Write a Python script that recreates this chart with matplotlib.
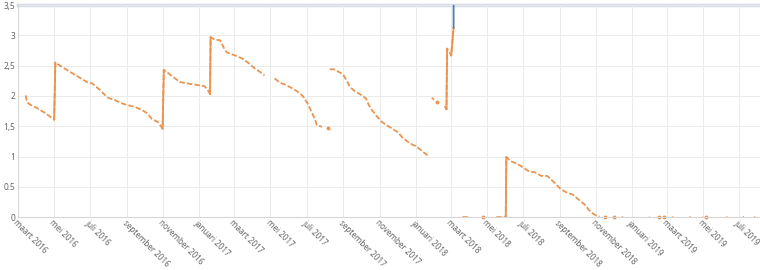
import numpy as np
import pandas as pd
import matplotlib
matplotlib.use('Agg')
import matplotlib.pyplot as plt

plt.rcParams['font.family'] = ['Noto Sans', 'DejaVu Sans']

nan = np.nan

# orange series (NaN = gap in the data)
dates = [
    '2016-03-14', '2016-03-16', '2016-03-21', '2016-04-02', '2016-04-14', '2016-04-24', '2016-05-01',
    '2016-05-03', '2016-05-11', '2016-05-19', '2016-06-05', '2016-06-27', '2016-07-04', '2016-07-17',
    '2016-07-22', '2016-07-31', '2016-08-12', '2016-08-20', '2016-09-01', '2016-09-14', '2016-09-26',
    '2016-10-04', '2016-10-13', '2016-10-23', '2016-10-31',
    '2016-11-02', '2016-11-09', '2016-11-17', '2016-11-29', '2016-12-16', '2016-12-29', '2017-01-10',
    '2017-01-15', '2017-01-19',
    '2017-01-20', '2017-01-27', '2017-02-05', '2017-02-11', '2017-02-16', '2017-03-02', '2017-03-14',
    '2017-03-27', '2017-04-05', '2017-04-13', '2017-04-21', '2017-04-30',
    '2017-05-08', '2017-05-17', '2017-05-25', '2017-06-08', '2017-06-19', '2017-06-26', '2017-07-03',
    '2017-07-10', '2017-07-15', '2017-07-18', '2017-07-27', '2017-08-01',
    '2017-08-06', '2017-08-07',
    '2017-08-09', '2017-08-16', '2017-08-22', '2017-08-31', '2017-09-07', '2017-09-12', '2017-09-20',
    '2017-09-29', '2017-10-09', '2017-10-14', '2017-10-19', '2017-10-26', '2017-11-05', '2017-11-21',
    '2017-12-02', '2017-12-10', '2017-12-22', '2018-01-03', '2018-01-13', '2018-01-21', '2018-01-25',
    '2018-01-28', '2018-02-01', '2018-02-03',
    '2018-02-06', '2018-02-08',
    '2018-02-19', '2018-02-22', '2018-02-23', '2018-02-27', '2018-03-02', '2018-03-06', '2018-03-10',
    '2018-03-21', '2018-03-30', '2018-04-05',
    '2018-04-24', '2018-04-27',
    '2018-05-17', '2018-05-26', '2018-06-02', '2018-06-03', '2018-06-11', '2018-06-19', '2018-06-25',
    '2018-07-04', '2018-07-12', '2018-07-21', '2018-08-01', '2018-08-11', '2018-08-23', '2018-09-03',
    '2018-09-12', '2018-09-23', '2018-10-04', '2018-10-14', '2018-10-20', '2018-10-28', '2018-11-07',
    '2018-11-10',
    '2018-11-17', '2018-11-18',
    '2018-12-01', '2018-12-03', '2018-12-15', '2018-12-17', '2018-12-20',
    '2019-01-30', '2019-01-31', '2019-02-02',
    '2019-02-16', '2019-02-18', '2019-02-24', '2019-02-26', '2019-03-10', '2019-03-12', '2019-03-14',
    '2019-04-08', '2019-04-10', '2019-04-12',
    '2019-04-30', '2019-05-01', '2019-05-04', '2019-05-06', '2019-05-08',
    '2019-06-09', '2019-06-11', '2019-06-13',
    '2019-07-07', '2019-07-09', '2019-07-11', '2019-07-26', '2019-07-28',
]
values = [
    2.01, 1.90, 1.86, 1.80, 1.73, 1.66, 1.61,
    2.55, 2.50, 2.45, 2.35, 2.22, 2.21, 2.10,
    2.05, 1.97, 1.93, 1.89, 1.85, 1.82, 1.77,
    1.72, 1.62, 1.57, 1.46,
    2.43, 2.38, 2.32, 2.23, 2.20, 2.18, 2.16,
    2.10, 2.03,
    2.97, 2.93, 2.92, 2.80, 2.72, 2.67, 2.62,
    2.53, 2.45, 2.40, 2.34, nan,
    2.29, 2.22, 2.19, 2.12, 2.05, 1.98, 1.87,
    1.72, 1.62, 1.52, 1.49, nan,
    1.47, nan,
    2.44, 2.44, 2.41, 2.36, 2.25, 2.15, 2.08,
    2.03, 1.96, 1.85, 1.77, 1.68, 1.57, 1.47,
    1.40, 1.31, 1.22, 1.16, 1.08, 1.02, nan,
    1.97, 1.94, nan,
    1.90, nan,
    1.83, 1.78, 2.78, 2.73, 2.67, 3.13, nan,
    0.0, 0.0, nan,
    0.0, nan,
    0.0, 0.0, 0.0, 0.99, 0.92, 0.89, 0.86,
    0.80, 0.75, 0.74, 0.68, 0.68, 0.57, 0.46,
    0.41, 0.37, 0.28, 0.20, 0.12, 0.05, 0.0,
    nan,
    0.0, nan,
    0.0, nan, 0.0, 0.0, nan,
    0.0, 0.0, nan,
    0.0, nan, 0.0, nan, 0.0, 0.0, nan,
    0.0, 0.0, nan,
    0.0, 0.0, nan, 0.0, nan,
    0.0, 0.0, nan,
    0.0, 0.0, nan, 0.0, 0.0,
]

# blue series: single spike off the top of the chart
blue_dates = ['2018-03-06', '2018-03-07']
blue_values = [3.13, 15.0]

tick_dates = ['2016-03-01', '2016-05-01', '2016-07-01', '2016-09-01', '2016-11-01', '2017-01-01',
              '2017-03-01', '2017-05-01', '2017-07-01', '2017-09-01', '2017-11-01', '2018-01-01',
              '2018-03-01', '2018-05-01', '2018-07-01', '2018-09-01', '2018-11-01', '2019-01-01',
              '2019-03-01', '2019-05-01', '2019-07-01']
tick_labels = ['maart 2016', 'mei 2016', 'juli 2016', 'september 2016', 'november 2016', 'januari 2017',
               'maart 2017', 'mei 2017', 'juli 2017', 'september 2017', 'november 2017', 'januari 2018',
               'maart 2018', 'mei 2018', 'juli 2018', 'september 2018', 'november 2018', 'januari 2019',
               'maart 2019', 'mei 2019', 'juli 2019']
y_ticks = [0, 0.5, 1, 1.5, 2, 2.5, 3, 3.5]
y_labels = ['0', '0.5', '1', '1,5', '2', '2,5', '3', '3,5']

orange = '#EA9450'
blue = '#4C7DB8'

x = pd.to_datetime(dates)
y = np.array(values)

fig = plt.figure(figsize=(7.6, 2.7), dpi=100)
ax = fig.add_axes([0.0237, 0.196, 0.9763, 0.785])

ax.plot(x, y, color=orange, lw=1.3, linestyle=(0, (3, 1.2)), solid_capstyle='butt')

# jumps drawn solid
for i in range(len(y) - 1):
    if not np.isnan(y[i]) and not np.isnan(y[i + 1]) and abs(y[i + 1] - y[i]) > 0.3:
        ax.plot(x[i:i + 2], y[i:i + 2], color=orange, lw=1.3)

# isolated points as dots
iso = []
for i in range(len(y)):
    if np.isnan(y[i]):
        continue
    left = i == 0 or np.isnan(y[i - 1])
    right = i == len(y) - 1 or np.isnan(y[i + 1])
    if left and right:
        iso.append(i)
ax.plot(x[iso], y[iso], 'o', color=orange, ms=1.8, clip_on=False)

ax.plot(pd.to_datetime(blue_dates), blue_values, color=blue, lw=1.3)

ax.set_xlim(pd.Timestamp('2016-03-01'), pd.Timestamp('2019-08-05'))
ax.set_ylim(0, 3.5)
ax.axhline(3.5, color='#d3dbe8', lw=2.5, clip_on=False, zorder=0)

ax.set_xticks(pd.to_datetime(tick_dates))
ax.set_xticklabels(tick_labels, rotation=-45, ha='left', va='top', rotation_mode='anchor',
                   fontsize=5.8, color='#666666')
ax.set_yticks(y_ticks)
ax.set_yticklabels(y_labels, fontsize=6, color='#666666')
ax.tick_params(length=0, pad=2)
ax.tick_params(axis='x', pad=1)

ax.grid(True, color='#ebebeb', lw=0.7)
ax.set_axisbelow(True)
for s in ['top', 'right']:
    ax.spines[s].set_visible(False)
for s in ['left', 'bottom']:
    ax.spines[s].set_color('#d6d6d6')
    ax.spines[s].set_linewidth(0.8)

fig.savefig('out.png', dpi=100)
